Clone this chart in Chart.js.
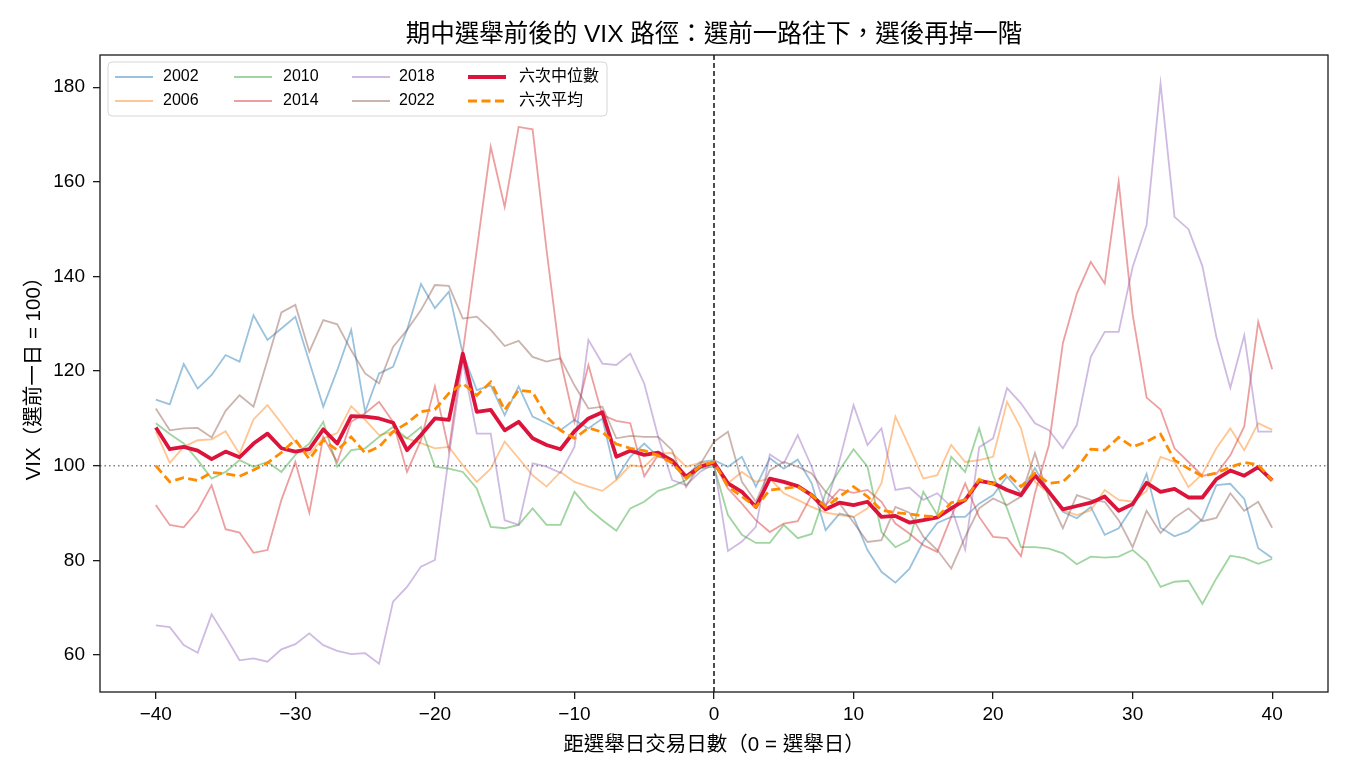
<!DOCTYPE html>
<html>
<head>
<meta charset="utf-8">
<script src="https://cdn.jsdelivr.net/npm/chart.js@4"></script>
<style>
  html, body { margin: 0; padding: 0; background: #fff; }
  #wrap { width: 1350px; height: 780px; }
</style>
</head>
<body>
<div id="wrap"><canvas id="vixChart" width="1350" height="780"></canvas></div>
<script>
// ============  data  ============
const days = [-40, -39, -38, -37, -36, -35, -34, -33, -32, -31,
   -30, -29, -28, -27, -26, -25, -24, -23, -22, -21,
   -20, -19, -18, -17, -16, -15, -14, -13, -12, -11,
   -10, -9, -8, -7, -6, -5, -4, -3, -2, -1,
   0,
   1, 2, 3, 4, 5, 6, 7, 8, 9, 10,
   11, 12, 13, 14, 15, 16, 17, 18, 19, 20,
   21, 22, 23, 24, 25, 26, 27, 28, 29, 30,
   31, 32, 33, 34, 35, 36, 37, 38, 39, 40];

const vix2002 = [114, 113, 121.5, 116.3, 119.2, 123.4, 122, 131.8, 126.6, 129,
   131.5, 122, 112.5, 120.2, 128.7, 111.4, 119.5, 120.9, 128.7, 138.4,
   133.3, 136.8, 123.7, 116, 117, 110.7, 116.8, 110.4, 109, 107.5,
   109.7, 107.9, 110, 97.3, 101.9, 104.7, 101.9, 101.2, 97.7, 100.8,
   101.2,
   99.8, 101.9, 95.6, 101.6, 99.4, 101.3, 96.3, 86.4, 89.9, 89.2,
   82.2, 77.6, 75.3, 78.2, 84, 87.9, 89.2, 89.2, 92, 93.8,
   97.7, 94.2, 99.5, 94.2, 90.3, 88.9, 91.3, 85.4, 86.8, 91.3,
   98.3, 86.9, 85.1, 86.2, 88.7, 95.9, 96.2, 93, 82.6, 80.5];

const vix2006 = [107.2, 100.6, 104, 105.4, 105.6, 107.3, 102.5, 109.8, 112.8, 109,
   105, 102.5, 105.8, 106.9, 112.6, 109.7, 106.5, 107.2, 105.8, 104.8,
   103.7, 104, 100.1, 96.6, 99.4, 105.1, 101.6, 98, 95.6, 98.7,
   96.6, 95.6, 94.7, 97, 100.1, 99.8, 102.6, 102.7, 99.8, 100.6,
   100.6,
   96.3, 98.7, 96.6, 97.3, 94.2, 92.8, 91.3, 90.1, 89.6, 89.2,
   91, 96.3, 110.4, 104, 97.3, 98, 104.4, 100.8, 101.2, 101.9,
   113.5, 107.9, 96.6, 94.2, 90.6, 89.6, 90.6, 94.9, 92.8, 92.4,
   94.7, 101.9, 100.8, 95.5, 98.3, 103.7, 107.9, 103.3, 109, 107.6];

const vix2010 = [109, 106.7, 104.7, 101.2, 97.3, 98.7, 101.2, 99.8, 100.8, 98.7,
   102.3, 104.7, 109.3, 99.8, 103.3, 103.7, 106.1, 108.2, 105.8, 108.2,
   99.8, 99.4, 98.7, 95.2, 87.1, 86.8, 87.5, 91, 87.5, 87.5,
   94.5, 91, 88.5, 86.3, 91, 92.4, 94.7, 95.6, 97, 99.4,
   99.8,
   89.6, 85.4, 83.7, 83.7, 87.5, 84.7, 85.6, 94.3, 99.1, 103.5,
   99.8, 86, 82.8, 84.3, 94.5, 89.6, 101.9, 98.7, 107.9, 98,
   91, 82.8, 82.8, 82.5, 81.5, 79.2, 80.8, 80.6, 80.8, 82.2,
   79.7, 74.4, 75.5, 75.7, 70.8, 76.2, 81, 80.5, 79.3, 80.3];

const vix2014 = [91.7, 87.5, 87, 90.5, 95.9, 86.6, 85.9, 81.6, 82.2, 92.8,
   100.8, 90.1, 106.1, 100.8, 109.3, 111.1, 113.5, 109.3, 98.7, 105.4,
   116.8, 103.3, 124, 145.6, 167.4, 154.7, 171.6, 171.1, 145.6, 122.3,
   109.3, 121.3, 110.7, 109.5, 109, 97.8, 102.3, 100.5, 97.3, 99.8,
   100.6,
   95.2, 92, 88.5, 86, 87.8, 88.3, 93.8, 91.7, 95, 94.3,
   94.9, 92.4, 87.8, 85.7, 83.2, 81.8, 89.2, 96.3, 89.2, 85,
   84.7, 80.9, 94.2, 104.4, 125.9, 136.4, 143.1, 138.5, 160, 132,
   114.4, 111.9, 103.7, 100.8, 97.9, 98.3, 102.2, 108.3, 130.4, 120.4];

const vix2018 = [66.3, 65.9, 62.1, 60.5, 68.6, 63.9, 58.9, 59.3, 58.6, 61.2,
   62.3, 64.6, 62.1, 60.9, 60.2, 60.4, 58.2, 71.3, 74.4, 78.7,
   80.1, 102, 122, 106.8, 106.8, 88.5, 87.5, 100.5, 99.8, 98.5,
   104, 126.6, 121.6, 121.3, 123.7, 117.4, 106.1, 97, 95.9, 98.7,
   100.5,
   82, 84, 87.1, 102.4, 100.5, 106.5, 99.8, 91.3, 101.2, 112.8,
   104.4, 107.9, 94.9, 95.4, 92.8, 94.2, 91.3, 82.3, 103.9, 105.8,
   116.4, 113.2, 109, 107.5, 103.7, 108.6, 123, 128.3, 128.3, 142,
   150.8, 180.8, 152.6, 150, 142.2, 127.2, 116.5, 127.6, 107.2, 107.2];

const vix2022 = [112.1, 107.5, 107.9, 108, 106, 111.6, 114.9, 112.5, 122.3, 132.4,
   134, 124.1, 130.8, 129.9, 124.4, 119.5, 117.4, 125.1, 128.7, 132.9,
   138.2, 138, 131.1, 131.5, 128.7, 125.3, 126.4, 123, 122, 122.7,
   117, 112.1, 112.5, 105.8, 106.3, 106.1, 106.1, 103.3, 95.5, 100.2,
   105.1,
   107.2, 96.6, 92.4, 99.1, 100.8, 99.8, 98.4, 94.5, 92, 88,
   83.9, 84.3, 91.3, 90.1, 85, 82.2, 78.3, 85, 91, 93.1,
   91.7, 93.5, 102.7, 93.1, 86.8, 93.8, 92.8, 92.4, 88.5, 82.8,
   90.5, 85.8, 89, 91, 88.3, 89, 94.2, 90.5, 92.4, 86.9];

const medianVals = [108.1, 103.5, 104, 103.2, 101.4, 103, 101.8, 104.7, 106.8, 103.7,
   103, 103.5, 107.7, 104.7, 110.5, 110.4, 110, 109.1, 103.3, 106.5,
   110, 109.7, 123.7, 111.4, 111.8, 107.5, 109.3, 105.8, 104.4, 103.5,
   107.3, 110, 111.3, 101.9, 103.2, 102.3, 102.8, 101.1, 97.7, 99.8,
   100.7,
   96.3, 94.5, 91.3, 97.3, 96.6, 95.7, 93.8, 90.8, 92.2, 91.7,
   92.4, 89.2, 89.4, 88, 88.5, 89.1, 91, 92.8, 96.8, 96.3,
   94.9, 93.8, 98, 94.5, 90.8, 91.5, 92.2, 93.5, 90.5, 91.9,
   96.4, 94.5, 95.1, 93.3, 93.3, 97.2, 99, 97.9, 99.7, 96.9];

const meanVals = [100, 96.6, 97.5, 96.9, 98.6, 98.3, 97.8, 99.1, 100.6, 102.8,
   105.5, 101.4, 105.4, 103.3, 106.1, 102.7, 104, 107.2, 109, 111.4,
   111.9, 115.3, 117.4, 114.9, 117.7, 111.8, 116, 115.6, 110.4, 107.5,
   105.8, 108, 107.1, 104.6, 103.7, 103.2, 102.2, 100.6, 97.4, 99.9,
   100.8,
   95.6, 93.5, 91.3, 94.9, 95.2, 95.6, 93.8, 91.3, 93.5, 95.6,
   93.5, 90.6, 90.1, 89.8, 89.4, 89.2, 92.2, 92.8, 97.1, 96.1,
   98.4, 95.6, 98.4, 96.3, 96.6, 99.4, 103.5, 103.3, 106, 104,
   105.1, 106.7, 101.2, 99.4, 97.8, 98.5, 99.7, 100.7, 100.2, 96.9];

const yearLabels = ['2002', '2006', '2010', '2014', '2018', '2022'];
const yearSeries = [vix2002, vix2006, vix2010, vix2014, vix2018, vix2022];
const yearColors = ['rgba(31,119,180,0.45)', 'rgba(255,127,14,0.45)', 'rgba(44,160,44,0.45)',
   'rgba(214,39,40,0.45)', 'rgba(148,103,189,0.45)', 'rgba(140,86,75,0.45)'];

const FONT = '"Liberation Sans", "Noto Sans CJK TC", sans-serif';
Chart.defaults.font.family = FONT;
Chart.defaults.color = '#000';

function pts(vals) {
   return days.map((d, i) => ({ x: d, y: vals[i] }));
}

const datasets = yearSeries.map((vals, i) => ({
   label: yearLabels[i],
   data: pts(vals),
   borderColor: yearColors[i],
   borderWidth: 1.8,
   pointRadius: 0,
   tension: 0,
   order: 10 - i,
}));
datasets.push({
   label: '六次中位數',
   data: pts(medianVals),
   borderColor: '#DC143C',
   borderWidth: 3.8,
   pointRadius: 0,
   tension: 0,
   borderJoinStyle: 'round',
   order: 2,
});
datasets.push({
   label: '六次平均',
   data: pts(meanVals),
   borderColor: '#FF8C00',
   borderWidth: 2.8,
   borderDash: [9, 4.5],
   pointRadius: 0,
   tension: 0,
   order: 1,
});

// ============  extra drawing: ref lines, frame, titles, legend  ============
const decor = {
   id: 'decor',
   beforeDatasetsDraw(chart) {
      const { ctx, chartArea: a, scales: { x, y } } = chart;
      ctx.save();
      // y = 100 dotted
      ctx.strokeStyle = '#808080';
      ctx.lineWidth = 1.4;
      ctx.setLineDash([1.5, 3]);
      const y100 = y.getPixelForValue(100);
      ctx.beginPath();
      ctx.moveTo(a.left, y100);
      ctx.lineTo(a.right, y100);
      ctx.stroke();
      // x = 0 dashed
      ctx.strokeStyle = '#000';
      ctx.lineWidth = 1.4;
      ctx.setLineDash([5, 3]);
      const x0 = x.getPixelForValue(0);
      ctx.beginPath();
      ctx.moveTo(x0, a.top);
      ctx.lineTo(x0, a.bottom);
      ctx.stroke();
      ctx.restore();
   },
   afterDraw(chart) {
      const { ctx, chartArea: a } = chart;
      ctx.save();
      // frame
      ctx.strokeStyle = '#1a1a1a';
      ctx.lineWidth = 1.3;
      ctx.strokeRect(a.left, a.top, a.right - a.left, a.bottom - a.top);

      const cx = (a.left + a.right) / 2;
      ctx.fillStyle = '#000';
      ctx.textAlign = 'center';
      ctx.textBaseline = 'middle';
      ctx.font = '24.5px ' + FONT;
      ctx.fillText('期中選舉前後的 VIX 路徑：選前一路往下，選後再掉一階', cx, 35);
      ctx.font = '20.5px ' + FONT;
      ctx.fillText('距選舉日交易日數（0 = 選舉日）', cx, 745);
      ctx.save();
      ctx.translate(34, (a.top + a.bottom) / 2);
      ctx.rotate(-Math.PI / 2);
      ctx.fillText('VIX（選前一日 = 100）', 0, 0);
      ctx.restore();

      // legend box
      const bx = 108, by = 62, bw = 499, bh = 54, r = 4;
      ctx.beginPath();
      ctx.moveTo(bx + r, by);
      ctx.arcTo(bx + bw, by, bx + bw, by + bh, r);
      ctx.arcTo(bx + bw, by + bh, bx, by + bh, r);
      ctx.arcTo(bx, by + bh, bx, by, r);
      ctx.arcTo(bx, by, bx + bw, by, r);
      ctx.closePath();
      ctx.fillStyle = 'rgba(255,255,255,0.8)';
      ctx.fill();
      ctx.strokeStyle = '#d6d6d6';
      ctx.lineWidth = 1;
      ctx.stroke();

      const colX = [115, 234, 352, 468];
      const txtX = [163, 283, 399, 519];
      const rowY = [77, 101];
      ctx.font = '16px ' + FONT;
      ctx.textAlign = 'left';
      ctx.textBaseline = 'middle';
      chart.data.datasets.forEach((ds, i) => {
         const col = Math.floor(i / 2), row = i % 2;
         const lx = colX[col], ly = rowY[row];
         ctx.save();
         ctx.strokeStyle = ds.borderColor;
         ctx.lineWidth = ds.borderWidth;
         if (ds.borderDash) ctx.setLineDash(ds.borderDash);
         ctx.beginPath();
         ctx.moveTo(lx, ly);
         ctx.lineTo(lx + 38, ly);
         ctx.stroke();
         ctx.restore();
         ctx.fillStyle = '#000';
         ctx.fillText(ds.label, txtX[col], ly);
      });
      ctx.restore();
   }
};

let ctx = document.getElementById('vixChart').getContext('2d');
let vixChart = new Chart(ctx, {
   type: 'line',
   data: { datasets: datasets },
   options: {
      responsive: false,
      animation: false,
      events: [],
      layout: {
         padding: { top: 55, right: 22, left: 0, bottom: 0 },
      },
      scales: {
         x: {
            type: 'linear',
            min: -44,
            max: 44,
            afterFit: function(s) { s.height = 88; },
            border: { display: false },
            grid: {
               drawOnChartArea: false,
               drawTicks: true,
               tickLength: 7,
               lineWidth: 1.3,
               color: '#1a1a1a',
            },
            ticks: {
               stepSize: 10,
               includeBounds: false,
               padding: 4,
               font: { size: 19 },
               color: '#000',
               maxRotation: 0,
               callback: function(val) {
                  return val < 0 ? '\u2212' + Math.abs(val) : String(val);
               },
            },
         },
         y: {
            min: 52.2,
            max: 186.8,
            afterFit: function(s) { s.width = 100; },
            border: { display: false },
            grid: {
               drawOnChartArea: false,
               drawTicks: true,
               tickLength: 7,
               lineWidth: 1.3,
               color: '#1a1a1a',
            },
            ticks: {
               stepSize: 20,
               includeBounds: false,
               padding: 8,
               font: { size: 19 },
               color: '#000',
            },
         },
      },
      plugins: {
         legend: { display: false },
         tooltip: { enabled: false },
         title: { display: false },
      },
   },
   plugins: [decor],
});
</script>
</body>
</html>
